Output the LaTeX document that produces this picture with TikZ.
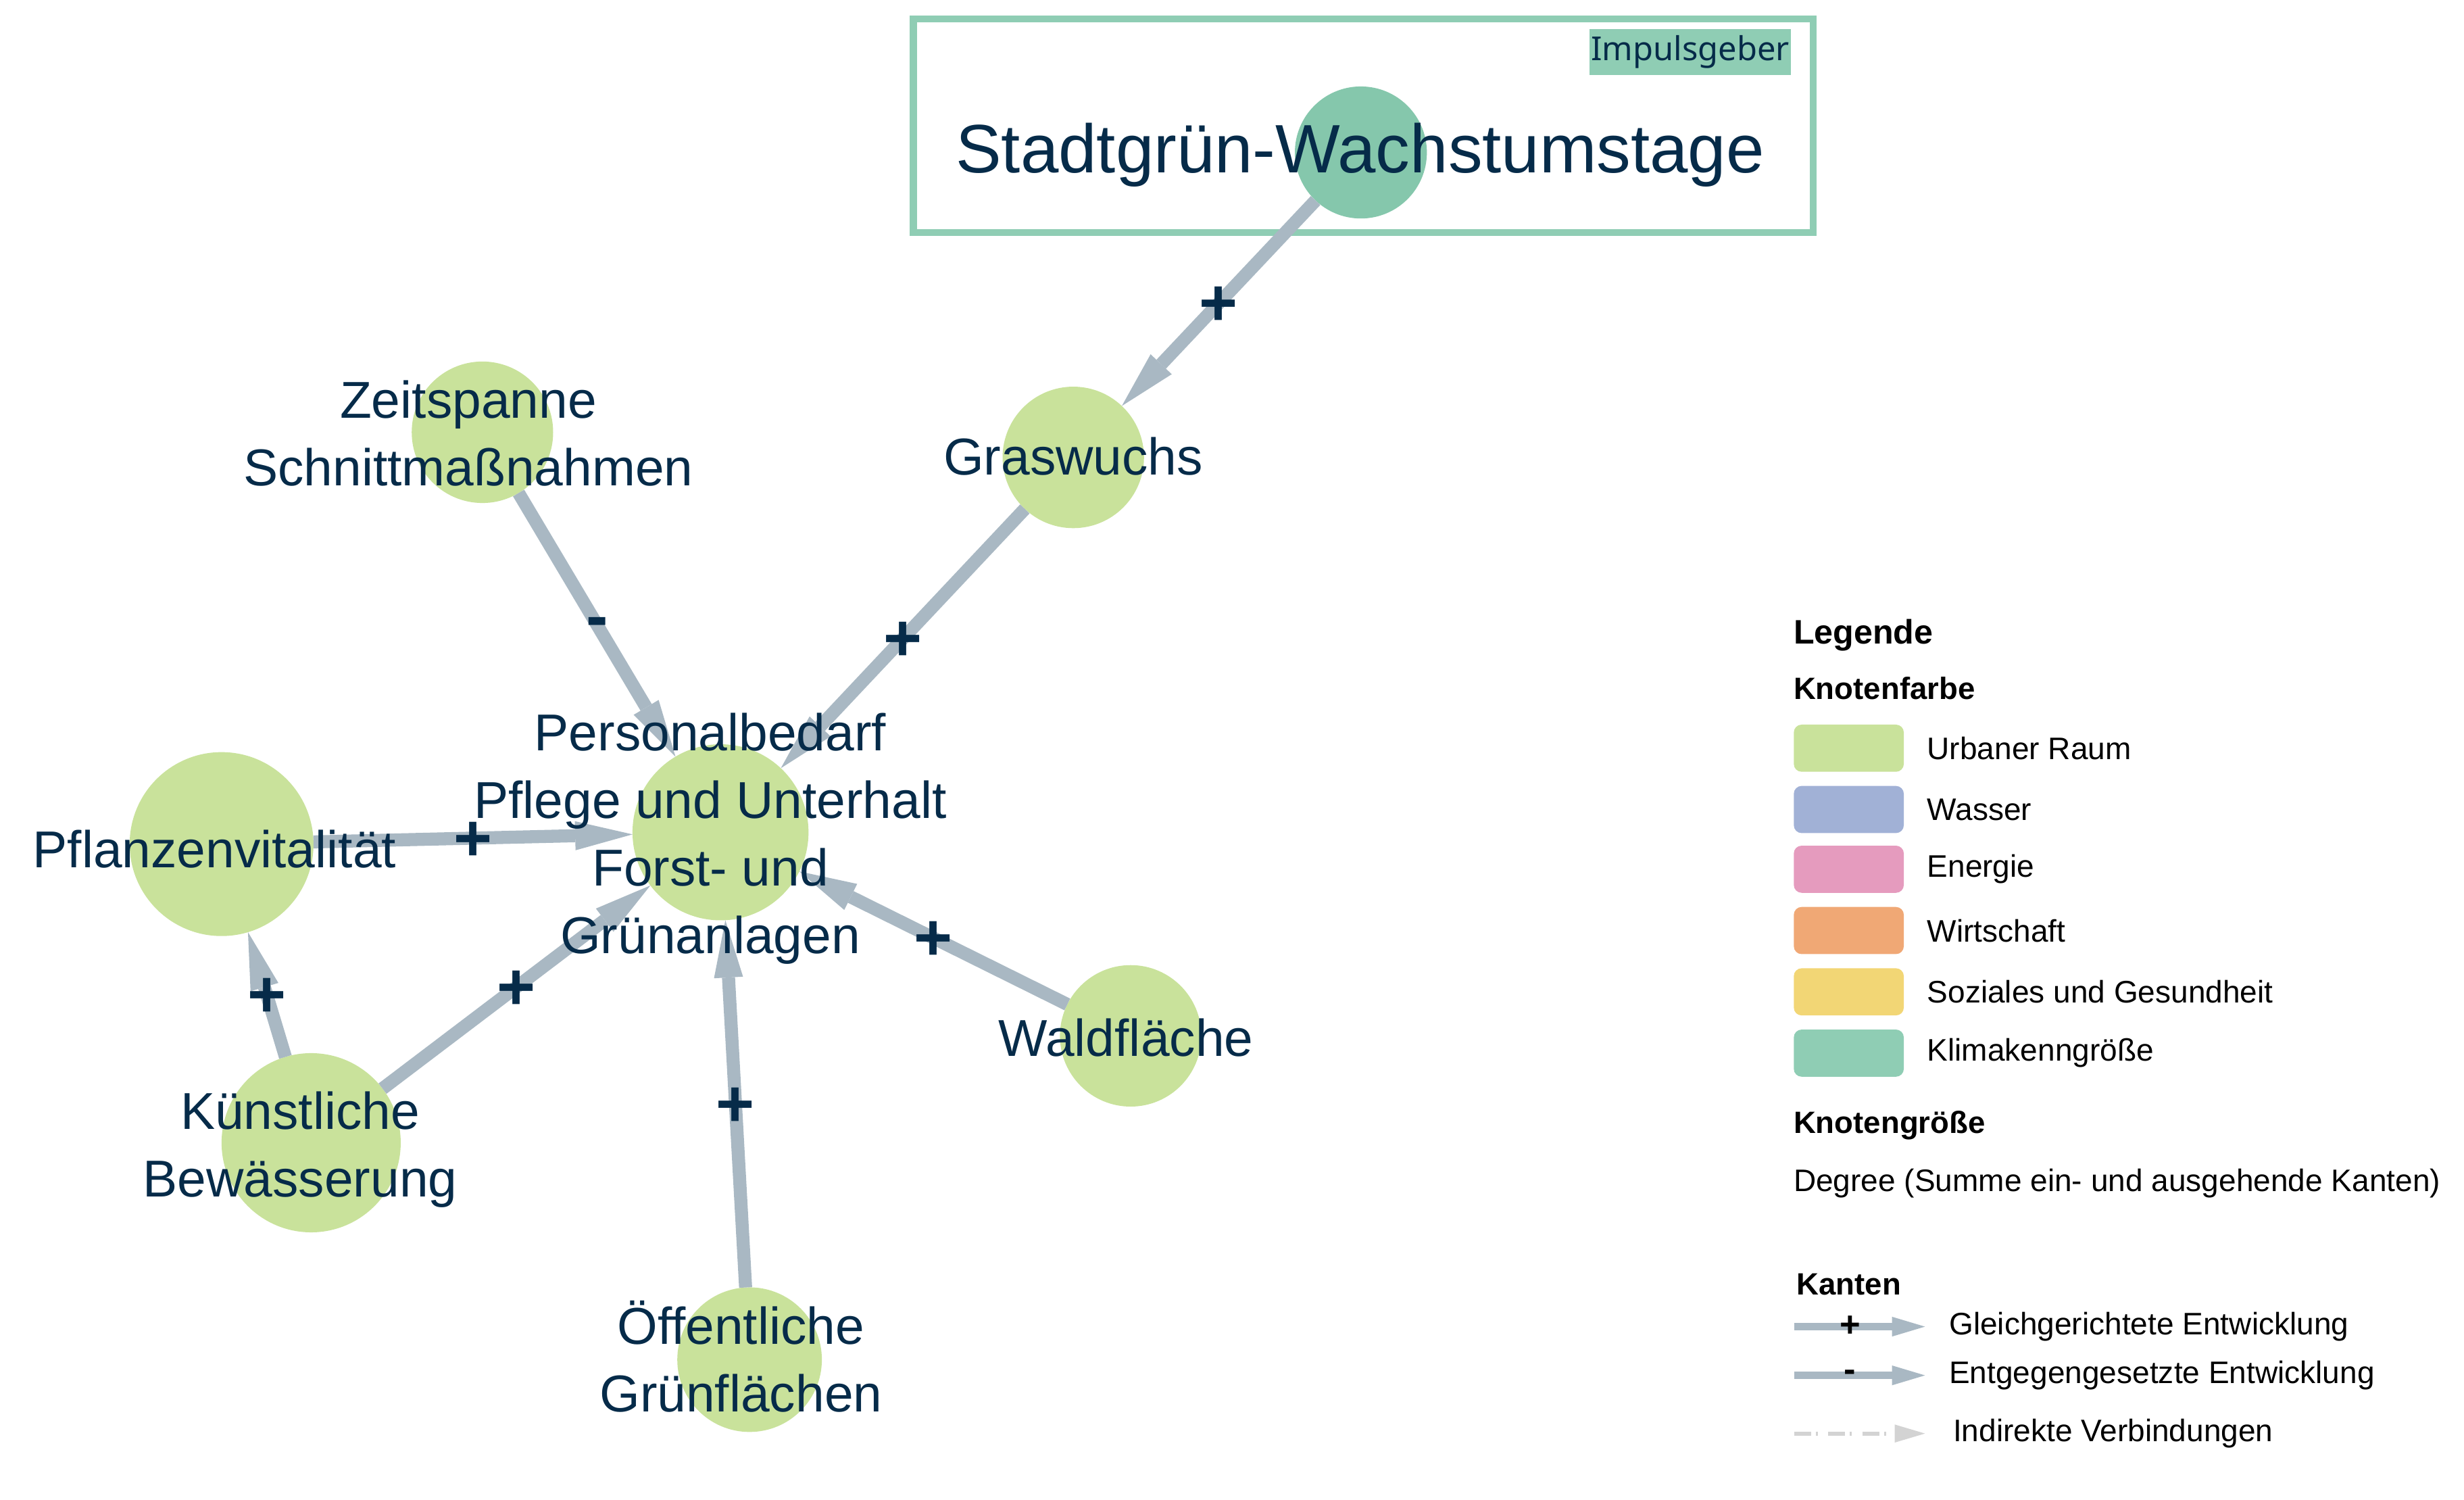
\documentclass[tikz,border=0pt]{standalone}
\usepackage{fontspec}
\setmainfont{Liberation Sans}
\newfontfamily\badgefont{Noto Sans}
\usetikzlibrary{arrows.meta}
\definecolor{navy}{RGB}{6,43,73}
\definecolor{edgegray}{RGB}{169,184,195}
\definecolor{urban}{RGB}{201,226,155}
\definecolor{wasser}{RGB}{161,177,214}
\definecolor{energie}{RGB}{229,155,190}
\definecolor{wirtschaft}{RGB}{240,168,117}
\definecolor{sozial}{RGB}{242,214,117}
\definecolor{klima}{RGB}{143,205,180}
\definecolor{klimanode}{RGB}{133,199,172}
\definecolor{indgray}{RGB}{211,211,211}
\begin{document}
\begin{tikzpicture}[x=0.5pt,y=-0.5pt,
  vnode/.style={circle,draw=none,fill=urban,inner sep=0pt,outer sep=0pt,minimum size=#1},
  vlabel/.style={text=navy,font=\fontsize{16.5}{21.5}\selectfont,align=center,inner sep=0pt},
  infl/.style={draw=edgegray,line width=4.15pt,-{Triangle[length=18.25pt,width=9.25pt,line width=0pt]}},
  sign/.style={text=navy,font=\fontsize{21}{21}\selectfont\bfseries,inner sep=0pt,yshift=-1pt},
  legtitle/.style={anchor=west,inner sep=0pt,font=\fontsize{10.8}{13}\selectfont\bfseries},
  leghead/.style={anchor=west,inner sep=0pt,font=\fontsize{9.8}{12}\selectfont\bfseries},
  legtext/.style={anchor=west,inner sep=0pt,font=\fontsize{9.9}{12}\selectfont},
  swatch/.style={rounded corners=2.5pt,minimum width=35pt,minimum height=15pt,inner sep=0pt,draw=none},
  legarrow/.style={draw=edgegray,line width=2.3pt,-{Triangle[length=10.5pt,width=6.3pt,line width=0pt]}},
  legsign/.style={font=\fontsize{11.3}{12}\selectfont\bfseries,inner sep=0pt,text=black},
  indarrow/.style={draw=indgray,line width=1.3pt,dash pattern=on 5.35pt off 1.45pt on 0.7pt off 3.35pt,
    -{Triangle[length=9.65pt,width=5.75pt,line width=0pt,fill=indgray]}}
]
\useasboundingbox (0,0) rectangle (1568,954);

% Impulsgeber frame
\node (impbox) [draw=klima,line width=2.2pt,minimum width=286.4pt,minimum height=68pt,inner sep=0pt] at (867.6,80) {};
\node (badge) [fill=klima,minimum width=64.1pt,minimum height=14.5pt,inner sep=0pt,text=navy,
  font=\badgefont\fontsize{10.5}{12}\selectfont] at (1075.6,33.1) {Impulsgeber};

% circles
\node (stadt)  [vnode=42pt,fill=klimanode] at (866,97) {};
\node (gras)   [vnode=45pt] at (683,291) {};
\node (zeit)   [vnode=45pt] at (307,275) {};
\node (pers)   [vnode=56pt] at (458.5,529.5) {};
\node (pflanz) [vnode=58.5pt] at (141,537) {};
\node (kuenst) [vnode=57pt] at (198,727) {};
\node (wald)   [vnode=45pt] at (719.5,659) {};
\node (oeff)   [vnode=46pt] at (477,865) {};

% edges
\draw[infl] (stadt)  -- node[sign]{+} (gras);
\draw[infl] (gras)   -- node[sign]{+} (pers);
\draw[infl] (zeit)   -- node[sign]{-} (pers);
\draw[infl] (pflanz) -- node[sign]{+} (pers);
\draw[infl] (kuenst) -- node[sign]{+} (pflanz);
\draw[infl] (kuenst) -- node[sign]{+} (pers);
\draw[infl] (oeff)   -- node[sign]{+} (pers);
\draw[infl] (wald)   -- node[sign]{+} (pers);

% labels
\node (tstadt) [vlabel,font=\fontsize{21.8}{26}\selectfont,anchor=base] at (865.5,110) {Stadtgrün-Wachstumstage};
\node (tgras)  [vlabel,anchor=base] at (683,302) {Graswuchs};
\node (tzeit)  [vlabel] at (298,275.5) {Zeitspanne\\Schnittmaßnahmen};
\node (tpers)  [vlabel] at (452,533.5) {Personalbedarf\\Pflege und Unterhalt\\Forst- und\\Grünanlagen};
\node (tpfl)   [vlabel,anchor=base] at (136.5,552) {Pflanzenvitalität};
\node (tkue)   [vlabel] at (191,731.5) {Künstliche\\Bewässerung};
\node (twald)  [vlabel,anchor=base] at (716.5,672) {Waldfläche};
\node (toeff)  [vlabel] at (471.5,863) {Öffentliche\\Grünflächen};

% legend
\node (lg)  [legtitle] at (1141,404) {Legende};
\node (lkf) [leghead] at (1141,438) {Knotenfarbe};
\node (sw1) [swatch,fill=urban]      at (1176.5,476) {};
\node (sw2) [swatch,fill=wasser]     at (1176.5,515) {};
\node (sw3) [swatch,fill=energie]    at (1176.5,553) {};
\node (sw4) [swatch,fill=wirtschaft] at (1176.5,592) {};
\node (sw5) [swatch,fill=sozial]     at (1176.5,631) {};
\node (sw6) [swatch,fill=klima]      at (1176.5,670) {};
\node (ls1) [legtext] at (1226,476) {Urbaner Raum};
\node (ls2) [legtext] at (1226,515) {Wasser};
\node (ls3) [legtext] at (1226,553) {Energie};
\node (ls4) [legtext] at (1226,592) {Wirtschaft};
\node (ls5) [legtext] at (1226,631) {Soziales und Gesundheit};
\node (ls6) [legtext] at (1226,670) {Klimakenngröße};
\node (lkg) [leghead] at (1141,716) {Knotengröße};
\node (ldeg) [legtext] at (1141,753) {Degree (Summe ein- und ausgehende Kanten)};
\node (lk)  [leghead] at (1143,817) {Kanten};

\coordinate (e1a) at (1141.8,844);
\coordinate (e1b) at (1225,844);
\coordinate (e2a) at (1141.8,875);
\coordinate (e2b) at (1225,875);
\coordinate (e3a) at (1141.8,912);
\coordinate (e3b) at (1225,912);
\draw[legarrow] (e1a) -- node[pos=0.43,legsign]{+} (e1b);
\draw[legarrow] (e2a) -- node[pos=0.425,legsign]{-} (e2b);
\draw[indarrow] (e3a) -- (e3b);
\node (le1) [legtext] at (1240,844) {Gleichgerichtete Entwicklung};
\node (le2) [legtext] at (1240,875) {Entgegengesetzte Entwicklung};
\node (le3) [legtext] at (1242.5,912) {Indirekte Verbindungen};
\end{tikzpicture}
\end{document}
